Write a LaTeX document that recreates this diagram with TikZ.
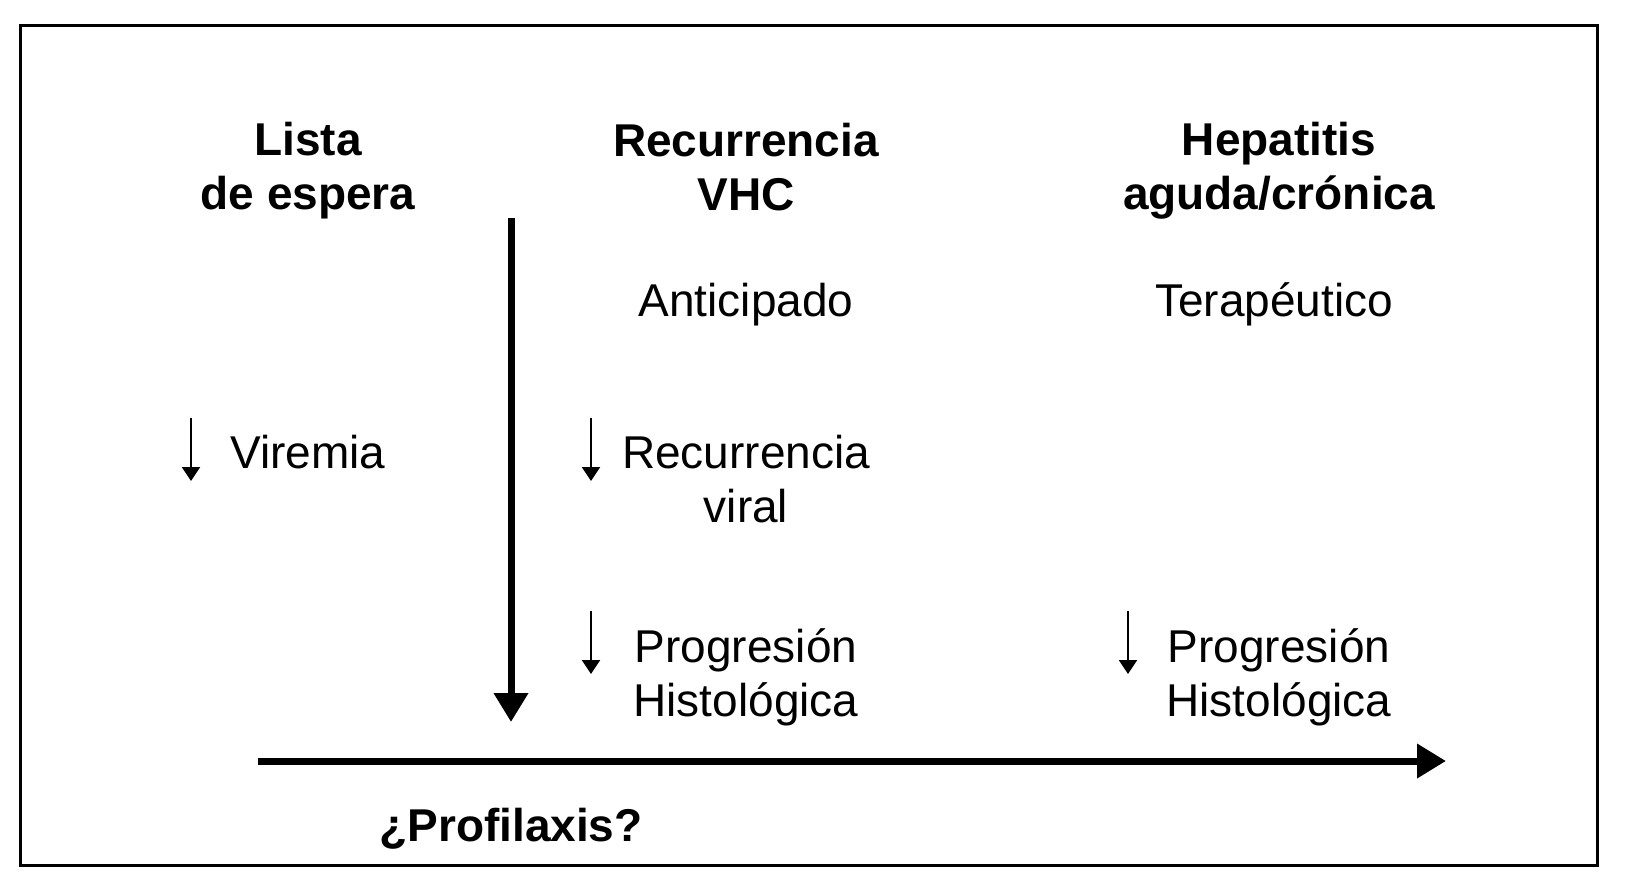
\documentclass[tikz,border=0pt]{standalone}
\usepackage{fontspec}
\setmainfont{Liberation Sans}
\usetikzlibrary{arrows.meta, positioning}

\tikzset{
    hdr/.style={font=\fontsize{23}{27}\selectfont\bfseries, align=center},
    lbl/.style={font=\fontsize{23}{27}\selectfont, align=center},
    bigarrow/.style={line width=3.5pt, -{Triangle[width=16.5pt, length=14.5pt]}},
    downarrow/.style={line width=1pt, -{Triangle[width=9pt, length=7pt]}}
}

\begin{document}
\begin{tikzpicture}[x=0.5pt, y=-0.5pt]

\useasboundingbox (0,0) rectangle (1630,885);

% outer frame
\draw[line width=1.5pt] (20,25) rectangle (1597,865);

% ============================================================
% column headers
% ============================================================

\node[hdr] (lista) at (308, 171) {Lista\\de espera};
\node[hdr] (recvhc) at (746, 167) {Recurrencia\\VHC};
\node[hdr] (hepat) at (1279, 171) {Hepatitis\\aguda/crónica};

\node[lbl] (anticip) at (746, 305) {Anticipado};
\node[lbl] (terap) at (1274, 304) {Terapéutico};

% ============================================================
% effects
% ============================================================

\node[lbl] (viremia) at (308, 452) {Viremia};
\node[lbl] (recviral) at (746, 479) {Recurrencia\\viral};
\node[lbl] (progmid) at (746, 677) {Progresión\\Histológica};
\node[lbl] (progright) at (1279, 677) {Progresión\\Histológica};

\coordinate (vir top) at (191, 418);
\coordinate (vir tip) at (191, 481);
\coordinate (rec top) at (591, 418);
\coordinate (rec tip) at (591, 481);
\coordinate (pm top) at (591, 611);
\coordinate (pm tip) at (591, 674);
\coordinate (pr top) at (1128, 611);
\coordinate (pr tip) at (1128, 674);

\draw[downarrow] (vir top) -- (vir tip);
\draw[downarrow] (rec top) -- (rec tip);
\draw[downarrow] (pm top) -- (pm tip);
\draw[downarrow] (pr top) -- (pr tip);

% ============================================================
% time axis and transplant marker
% ============================================================

\coordinate (tx top) at (511, 218);
\coordinate (tx tip) at (511, 722);
\draw[bigarrow] (tx top) -- (tx tip);

\coordinate (time start) at (258, 761);
\coordinate (time end) at (1446, 761);
\draw[bigarrow] (time start) -- (time end);

\node[hdr] (profil) at (511, 829) {¿Profilaxis?};

\end{tikzpicture}
\end{document}
